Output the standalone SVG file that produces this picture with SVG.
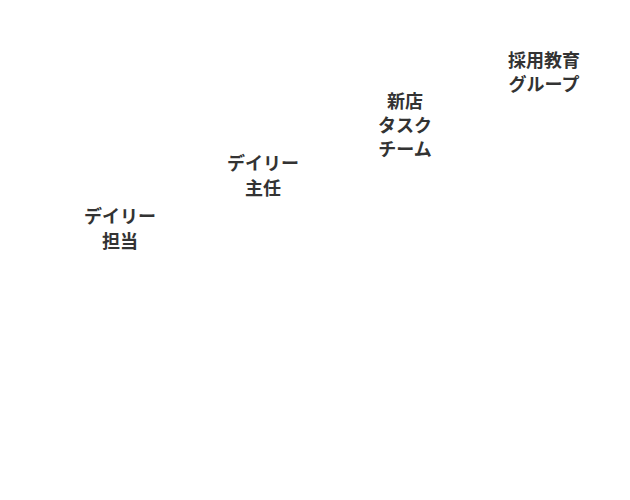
<svg xmlns="http://www.w3.org/2000/svg" width="630" height="500" viewBox="0 0 630 500">
<style>
.lbl{font-family:"Noto Sans CJK JP","Noto Sans",sans-serif;font-size:18px;font-weight:bold;fill:#333;text-anchor:middle}
</style>
<rect width="630" height="500" fill="#fff"/>
<g id="connectors"></g>
<g id="n1"><text class="lbl" x="120" y="223">デイリー</text><text class="lbl" x="120" y="248">担当</text></g>
<g id="n2"><text class="lbl" x="263" y="170">デイリー</text><text class="lbl" x="263" y="195">主任</text></g>
<g id="n3"><text class="lbl" x="405" y="108">新店</text><text class="lbl" x="405" y="132">タスク</text><text class="lbl" x="405" y="156">チーム</text></g>
<g id="n4"><text class="lbl" x="544" y="67">採用教育</text><text class="lbl" x="544" y="91">グループ</text></g>
</svg>
